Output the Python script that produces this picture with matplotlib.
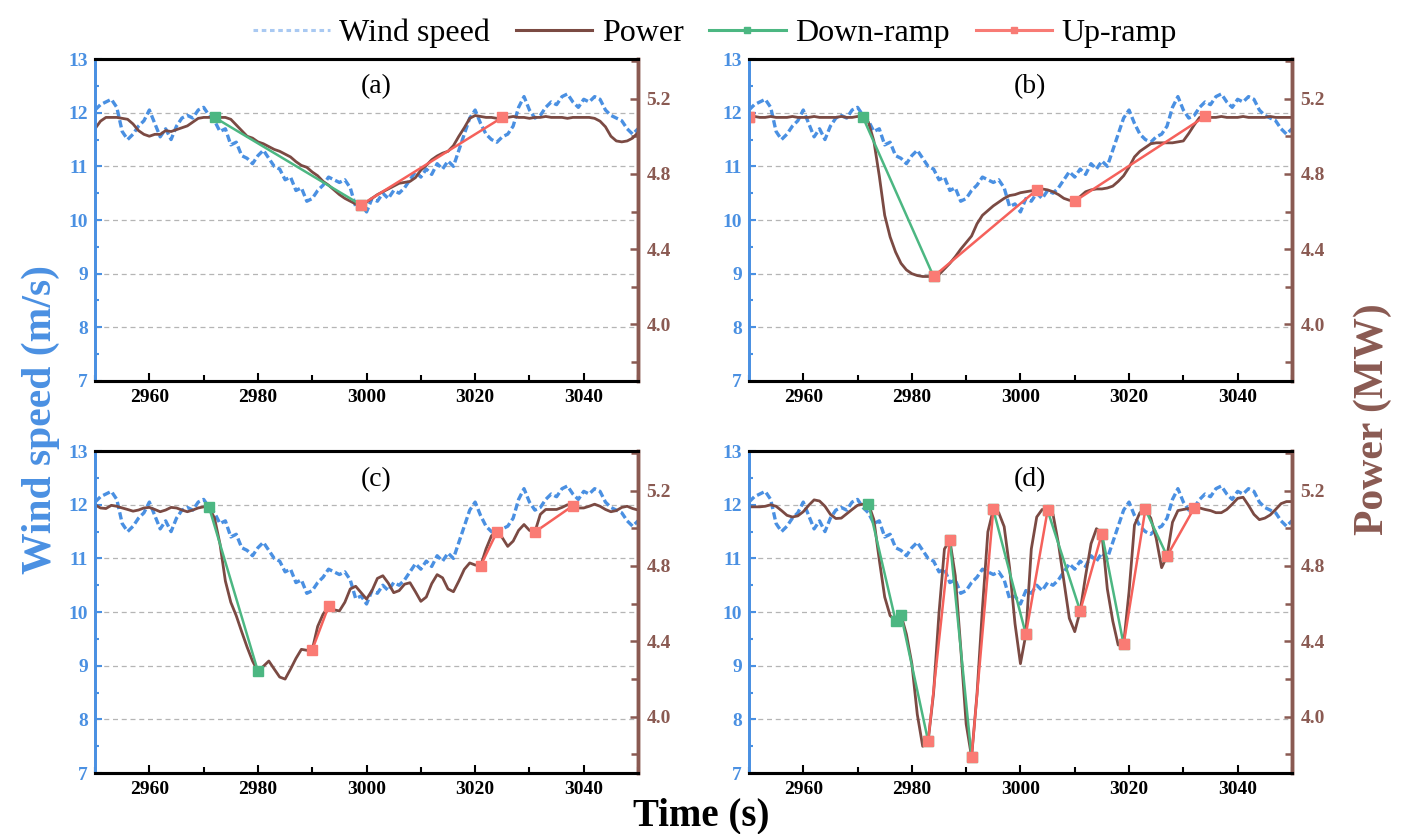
import numpy as np
import matplotlib.pyplot as plt
from matplotlib.lines import Line2D
from matplotlib.ticker import MultipleLocator

plt.rcParams['font.family'] = 'Liberation Serif'

time = np.arange(2950, 3051)

wind = np.array([
    12.05, 12.15, 12.2, 12.25, 12.1, 11.65, 11.5, 11.6, 11.75, 11.85,
    12.05, 11.8, 11.55, 11.7, 11.5, 11.75, 11.9, 11.95, 11.9, 12.05,
    12.1, 11.95, 11.85, 11.65, 11.7, 11.4, 11.45, 11.2, 11.15, 11.05,
    11.2, 11.3, 11.15, 11.0, 10.95, 10.75, 10.8, 10.55, 10.6, 10.35,
    10.4, 10.55, 10.65, 10.8, 10.75, 10.7, 10.75, 10.6, 10.25, 10.3,
    10.15, 10.4, 10.35, 10.5, 10.4, 10.55, 10.5, 10.6, 10.75, 10.9,
    10.8, 10.95, 10.85, 11.05, 10.95, 11.1, 11.0, 11.3, 11.6, 11.9,
    12.05, 11.8, 11.6, 11.5, 11.45, 11.55, 11.6, 11.75, 12.1, 12.3,
    12.05, 11.9, 11.95, 12.1, 12.2, 12.15, 12.3, 12.35, 12.2, 12.1,
    12.25, 12.2, 12.3, 12.25, 12.05, 11.95, 11.9, 11.85, 11.7, 11.6,
    11.7])

power_a = np.array([
    5.04, 5.08, 5.10, 5.10, 5.10, 5.095, 5.09, 5.065, 5.03, 5.01,
    5.00, 5.01, 5.01, 5.03, 5.025, 5.035, 5.045, 5.055, 5.075, 5.095,
    5.10, 5.10, 5.10, 5.10, 5.10, 5.09, 5.06, 5.03, 5.00, 4.99,
    4.97, 4.96, 4.945, 4.93, 4.92, 4.905, 4.89, 4.865, 4.845, 4.835,
    4.81, 4.79, 4.76, 4.74, 4.715, 4.69, 4.67, 4.655, 4.64, 4.635,
    4.65, 4.67, 4.69, 4.705, 4.72, 4.735, 4.75, 4.755, 4.76, 4.78,
    4.82, 4.845, 4.875, 4.895, 4.91, 4.92, 4.95, 5.00, 5.045, 5.095,
    5.11, 5.105, 5.10, 5.10, 5.095, 5.10, 5.10, 5.105, 5.10, 5.10,
    5.095, 5.10, 5.10, 5.105, 5.10, 5.10, 5.10, 5.095, 5.10, 5.10,
    5.10, 5.10, 5.095, 5.08, 5.05, 5.00, 4.975, 4.97, 4.975, 4.99,
    5.02])

power_b = np.array([
    5.10, 5.105, 5.10, 5.10, 5.105, 5.10, 5.10, 5.10, 5.105, 5.10,
    5.10, 5.10, 5.105, 5.10, 5.10, 5.10, 5.10, 5.105, 5.10, 5.10,
    5.105, 5.10, 5.075, 4.975, 4.79, 4.58, 4.465, 4.385, 4.325, 4.29,
    4.27, 4.26, 4.255, 4.255, 4.255, 4.265, 4.295, 4.325, 4.36, 4.40,
    4.435, 4.47, 4.535, 4.58, 4.605, 4.63, 4.65, 4.67, 4.685, 4.69,
    4.70, 4.705, 4.71, 4.715, 4.72, 4.715, 4.705, 4.69, 4.67, 4.66,
    4.655, 4.68, 4.705, 4.715, 4.72, 4.72, 4.725, 4.735, 4.76, 4.79,
    4.835, 4.89, 4.92, 4.94, 4.96, 4.965, 4.965, 4.965, 4.965, 4.97,
    4.975, 5.015, 5.06, 5.10, 5.105, 5.10, 5.10, 5.105, 5.10, 5.10,
    5.10, 5.105, 5.10, 5.10, 5.10, 5.10, 5.105, 5.10, 5.10, 5.10,
    5.10])

power_c = np.array([
    5.125, 5.108, 5.105, 5.122, 5.117, 5.108, 5.10, 5.091, 5.097, 5.108,
    5.111, 5.10, 5.088, 5.097, 5.111, 5.108, 5.097, 5.088, 5.097, 5.108,
    5.114, 5.111, 5.054, 4.918, 4.72, 4.607, 4.536, 4.451, 4.369, 4.295,
    4.24, 4.267, 4.295, 4.252, 4.21, 4.199, 4.252, 4.309, 4.357, 4.352,
    4.355, 4.479, 4.544, 4.585, 4.567, 4.561, 4.607, 4.678, 4.692, 4.658,
    4.624, 4.669, 4.734, 4.748, 4.709, 4.658, 4.669, 4.703, 4.711, 4.663,
    4.612, 4.635, 4.706, 4.754, 4.737, 4.678, 4.663, 4.72, 4.782, 4.816,
    4.805, 4.80, 4.89, 4.96, 4.98, 4.95, 4.904, 4.932, 4.989, 5.02,
    4.989, 4.98, 5.074, 5.10, 5.10, 5.10, 5.111, 5.125, 5.12, 5.108,
    5.108, 5.117, 5.128, 5.117, 5.10, 5.088, 5.094, 5.111, 5.117, 5.105,
    5.097])

power_d = np.array([
    5.114, 5.114, 5.114, 5.117, 5.125, 5.117, 5.094, 5.069, 5.06, 5.066,
    5.088, 5.122, 5.151, 5.145, 5.117, 5.074, 5.052, 5.054, 5.077, 5.10,
    5.122, 5.128, 5.13, 5.046, 4.833, 4.635, 4.536, 4.51, 4.541, 4.437,
    4.281, 4.012, 3.842, 3.87, 4.125, 4.55, 4.89, 4.937, 4.748, 4.366,
    3.961, 3.785, 4.119, 4.575, 4.981, 5.10, 5.083, 5.009, 4.791, 4.493,
    4.281, 4.437, 4.89, 5.06, 5.10, 5.095, 5.074, 4.918, 4.72, 4.522,
    4.451, 4.561, 4.748, 4.918, 4.998, 4.972, 4.678, 4.508, 4.38, 4.383,
    4.663, 5.017, 5.083, 5.10, 5.054, 4.947, 4.791, 4.853, 5.032, 5.094,
    5.10, 5.105, 5.108, 5.108, 5.10, 5.094, 5.083, 5.083, 5.10, 5.128,
    5.159, 5.165, 5.122, 5.074, 5.046, 5.054, 5.071, 5.10, 5.131, 5.142,
    5.142])

# ramp segments as (start, end) times
down_a = [(2972, 2999)]
up_a = [(2999, 3025)]
down_b = [(2971, 2984)]
up_b = [(2950, 2950), (2984, 3003), (3010, 3034)]
down_c = [(2971, 2980)]
up_c = [(2990, 2993), (3021, 3024), (3031, 3038)]
down_d = [(2972, 2977), (2978, 2983), (2987, 2991), (2995, 3001),
          (3005, 3011), (3015, 3019), (3023, 3027)]
up_d = [(2983, 2987), (2991, 2995), (3001, 3005), (3011, 3015),
        (3019, 3023), (3027, 3032)]

panels = [
    ('(a)', power_a, down_a, up_a, [0.0678, 0.5432, 0.3873, 0.386]),
    ('(b)', power_b, down_b, up_b, [0.5342, 0.5432, 0.3873, 0.386]),
    ('(c)', power_c, down_c, up_c, [0.0678, 0.0731, 0.3873, 0.386]),
    ('(d)', power_d, down_d, up_d, [0.5342, 0.0731, 0.3873, 0.386]),
]

c_wind = '#4a90e2'
c_power = '#7b4a43'
c_axis2 = '#8a5a52'
c_down = '#4cb782'
c_up = '#f5615b'
c_up_mk = '#fa7b74'

fig = plt.figure(figsize=(14.02, 8.34), dpi=100)

for tag, power, downs, ups, pos in panels:
    ax = fig.add_axes(pos)
    ax.plot(time, wind, color=c_wind, lw=2.4, dashes=(2.2, 1.0))
    ax.set_xlim(2950, 3050)
    ax.set_ylim(7, 13)
    ax.set_yticks(range(7, 14))
    ax.yaxis.set_minor_locator(MultipleLocator(0.5))
    ax.set_xticks(range(2960, 3050, 20))
    ax.xaxis.set_minor_locator(MultipleLocator(10))
    for y in range(8, 13):
        ax.axhline(y, color='#b5b5b5', lw=0.9, ls=(0, (4, 3)), zorder=0)
    ax.tick_params(axis='y', which='both', direction='in', colors=c_wind,
                   labelsize=14, pad=5)
    ax.tick_params(axis='y', which='major', length=5, width=1.5)
    ax.tick_params(axis='y', which='minor', length=3, width=1.5)
    ax.tick_params(axis='x', which='both', direction='in', colors='black',
                   labelsize=14, pad=6, width=1.5)
    ax.tick_params(axis='x', which='major', length=6)
    ax.tick_params(axis='x', which='minor', length=4)
    for lbl in ax.get_xticklabels() + ax.get_yticklabels():
        lbl.set_fontweight('bold')

    ax2 = ax.twinx()
    ax2.plot(time, power, color=c_power, lw=2.0)
    for t0, t1 in downs:
        ax2.plot([t0, t1], power[[t0 - 2950, t1 - 2950]], color=c_down,
                 lw=1.8, marker='s', ms=7, mfc=c_down, mec=c_down)
    for t0, t1 in ups:
        ax2.plot([t0, t1], power[[t0 - 2950, t1 - 2950]], color=c_up,
                 lw=1.8, marker='s', ms=7, mfc=c_up_mk, mec=c_up_mk)
    ax2.set_xlim(2950, 3050)
    ax2.set_ylim(3.7, 5.41)
    ax2.set_yticks([4.0, 4.4, 4.8, 5.2])
    ax2.set_yticklabels(['4.0', '4.4', '4.8', '5.2'])
    ax2.yaxis.set_minor_locator(MultipleLocator(0.2))
    ax2.tick_params(axis='y', which='both', direction='in', colors=c_axis2,
                    labelsize=14, pad=6, width=1.8)
    ax2.tick_params(axis='y', which='major', length=6)
    ax2.tick_params(axis='y', which='minor', length=5)
    for lbl in ax2.get_yticklabels():
        lbl.set_fontweight('bold')

    for a in (ax, ax2):
        a.spines['top'].set_linewidth(2.2)
        a.spines['bottom'].set_linewidth(2.2)
        a.spines['left'].set_color(c_wind)
        a.spines['left'].set_linewidth(2.0)
        a.spines['right'].set_color(c_axis2)
        a.spines['right'].set_linewidth(2.5)

    ax2.text(0.517, 0.913, tag, transform=ax2.transAxes, ha='center',
             va='center', fontsize=20)

handles = [
    Line2D([], [], color='#a9c9f2', lw=2.2, ls=(0, (1.5, 1.2))),
    Line2D([], [], color=c_power, lw=2.2),
    Line2D([], [], color=c_down, lw=2.2, marker='s', ms=5),
    Line2D([], [], color='#f87b75', lw=2.2, marker='s', ms=5),
]
fig.legend(handles, ['Wind speed', 'Power', 'Down-ramp', 'Up-ramp'],
           loc='upper center', bbox_to_anchor=(0.51, 1.012), ncol=4,
           frameon=False, fontsize=23, handlelength=2.4, handletextpad=0.3,
           columnspacing=0.8)

fig.text(0.029, 0.497, 'Wind speed (m/s)', rotation=90, ha='center',
         va='center', fontsize=30, fontweight='bold', color=c_wind)
fig.text(0.979, 0.497, 'Power (MW)', rotation=90, ha='center',
         va='center', fontsize=30, fontweight='bold', color=c_axis2)
fig.text(0.5, 0.022, 'Time (s)', ha='center', va='center', fontsize=28,
         fontweight='bold')

fig.savefig('out.png', dpi=100)
